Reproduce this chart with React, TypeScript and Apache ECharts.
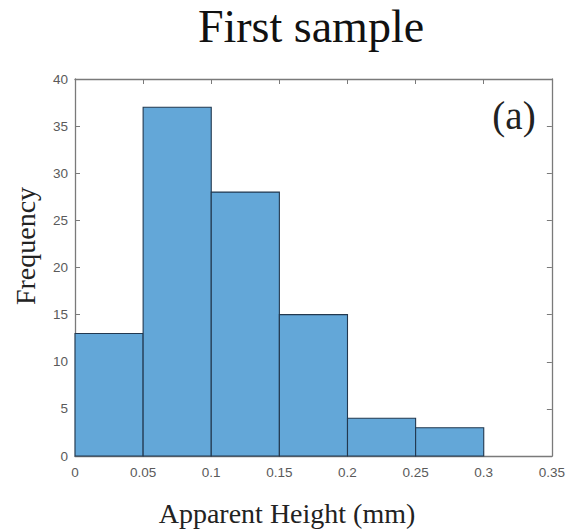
import React, { useEffect, useRef } from "react";
import * as echarts from "echarts";

// Histogram bins (left edges, width) and counts
const binStarts = [0, 0.05, 0.1, 0.15, 0.2, 0.25];
const binWidth = 0.05;
const counts = [13, 37, 28, 15, 4, 3];

const xTicks = [0, 0.05, 0.1, 0.15, 0.2, 0.25, 0.3, 0.35];
const yTicks = [0, 5, 10, 15, 20, 25, 30, 35, 40];

const AXIS_GRAY = "#7a7a7a";
const LABEL_GRAY = "#5a5a5a";
const SERIF = "'Liberation Serif', 'DejaVu Serif', serif";
const SANS = "'Liberation Sans', Arial, sans-serif";

export default function App() {
  const ref = useRef<HTMLDivElement>(null);

  useEffect(() => {
    if (!ref.current) return;
    const chart = echarts.init(ref.current, undefined, { renderer: "svg" });

    const data = binStarts.map((s, i) => [s, s + binWidth, counts[i]]);

    const axisCommon = {
      type: "value" as const,
      axisLine: { show: true, onZero: false, lineStyle: { color: AXIS_GRAY, width: 1.3 } },
      axisTick: { show: true, inside: true, length: 5, lineStyle: { color: AXIS_GRAY, width: 1 } },
      splitLine: { show: false },
    };

    chart.setOption({
      animation: false,
      backgroundColor: "#ffffff",
      grid: { left: 75, right: 15, top: 79, bottom: 73 },
      xAxis: [
        {
          ...axisCommon,
          position: "bottom",
          min: xTicks[0],
          max: xTicks[xTicks.length - 1],
          interval: 0.05,
          axisLabel: {
            color: LABEL_GRAY,
            fontFamily: SANS,
            fontSize: 13.5,
            margin: 9,
            formatter: (v: number) => String(+v.toFixed(2)),
          },
        },
        {
          ...axisCommon,
          position: "top",
          min: xTicks[0],
          max: xTicks[xTicks.length - 1],
          interval: 0.05,
          axisLabel: { show: false },
        },
      ],
      yAxis: [
        {
          ...axisCommon,
          position: "left",
          min: yTicks[0],
          max: yTicks[yTicks.length - 1],
          interval: 5,
          axisLabel: {
            color: LABEL_GRAY,
            fontFamily: SANS,
            fontSize: 13.5,
            margin: 7,
          },
        },
        {
          ...axisCommon,
          position: "right",
          min: yTicks[0],
          max: yTicks[yTicks.length - 1],
          interval: 5,
          axisLabel: { show: false },
        },
      ],
      series: [
        {
          type: "custom",
          xAxisIndex: 0,
          yAxisIndex: 0,
          data,
          encode: { x: [0, 1], y: 2 },
          renderItem: (params: any, api: any) => {
            const p0 = api.coord([api.value(0), 0]);
            const p1 = api.coord([api.value(1), api.value(2)]);
            return {
              type: "rect",
              shape: { x: p0[0], y: p1[1], width: p1[0] - p0[0], height: p0[1] - p1[1] },
              style: { fill: "#63a7d8", stroke: "#22384f", lineWidth: 1.1 },
            };
          },
        },
      ],
      graphic: [
        {
          type: "text",
          x: 311,
          y: 26,
          style: {
            text: "First sample",
            font: `46px ${SERIF}`,
            fill: "#111",
            textAlign: "center",
            textVerticalAlign: "middle",
          },
        },
        {
          type: "text",
          x: 25,
          y: 246,
          rotation: Math.PI / 2,
          style: {
            text: "Frequency",
            font: `28px ${SERIF}`,
            fill: "#222",
            textAlign: "center",
            textVerticalAlign: "middle",
          },
        },
        {
          type: "text",
          x: 287,
          y: 513,
          style: {
            text: "Apparent Height (mm)",
            font: `28px ${SERIF}`,
            fill: "#222",
            textAlign: "center",
            textVerticalAlign: "middle",
          },
        },
        {
          type: "text",
          x: 514,
          y: 115,
          style: {
            text: "(a)",
            font: `39px ${SERIF}`,
            fill: "#222",
            textAlign: "center",
            textVerticalAlign: "middle",
          },
        },
      ],
    });

    return () => chart.dispose();
  }, []);

  return <div ref={ref} style={{ width: 568, height: 529, position: "absolute", left: 0, top: 0 }} />;
}
